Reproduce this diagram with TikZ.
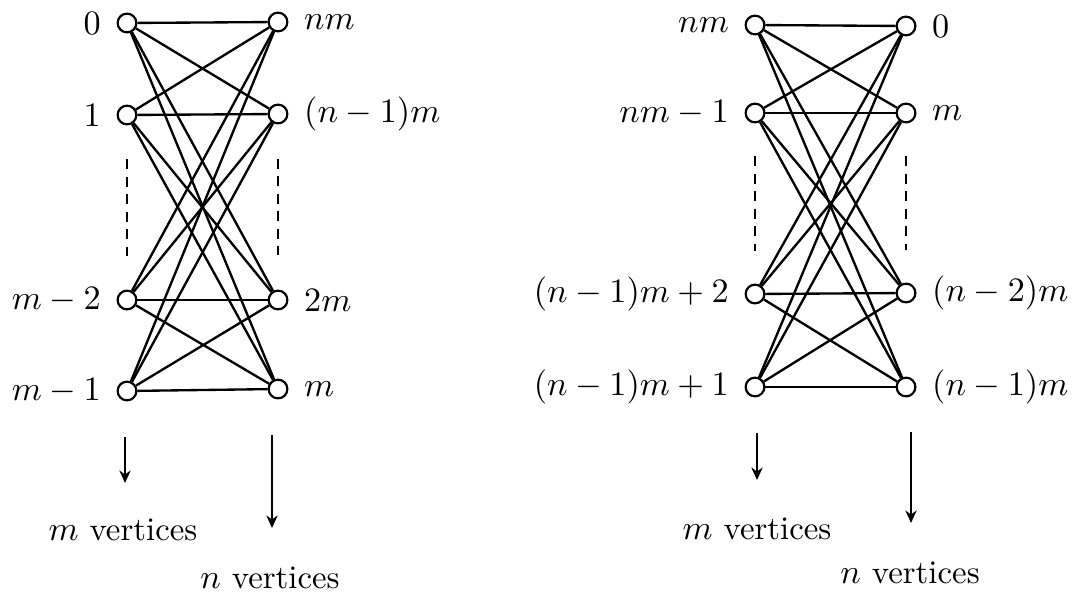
\documentclass[tikz,border=0pt]{standalone}
\usepackage{amsmath}
\usetikzlibrary{arrows.meta, calc, positioning}
\begin{document}
\begin{tikzpicture}[
    x=0.32pt, y=-0.32pt,
    >={Stealth[length=4pt,width=3.6pt]},
    font=\fontsize{10.5pt}{12pt}\selectfont,
    vert/.style={draw, circle, fill=white, inner sep=0pt, minimum size=6pt, line width=0.7pt},
    link/.style={line width=0.75pt},
    gap/.style={line width=0.65pt, dash pattern=on 3.2pt off 2.4pt},
    count/.style={->, line width=0.65pt}
]
\useasboundingbox (0,0) rectangle (1074,597);

\node[vert] (u0) at (127,23) {};
\node[vert] (u1) at (127,115) {};
\node[vert] (u2) at (127,300) {};
\node[vert] (u3) at (127,391) {};
\node[vert] (v0) at (278,22) {};
\node[vert] (v1) at (278,114) {};
\node[vert] (v2) at (278,300) {};
\node[vert] (v3) at (278,389) {};

\node[vert] (p0) at (755,25) {};
\node[vert] (p1) at (755,113) {};
\node[vert] (p2) at (755,294) {};
\node[vert] (p3) at (755,387) {};
\node[vert] (q0) at (906,26) {};
\node[vert] (q1) at (906,113) {};
\node[vert] (q2) at (906,293) {};
\node[vert] (q3) at (906,387) {};

\foreach \i in {0,...,3}
    \foreach \j in {0,...,3} {
        \draw[link] (u\i) -- (v\j);
        \draw[link] (p\i) -- (q\j);
    }

\node[left=1.5pt of u0] (lu0) {$0$};
\node[left=1.5pt of u1] (lu1) {$1$};
\node[left=1.5pt of u2] (lu2) {$m-2$};
\node[left=1.5pt of u3] (lu3) {$m-1$};
\node[right=1.5pt of v0] (lv0) {$nm$};
\node[right=1.5pt of v1] (lv1) {$(n-1)m$};
\node[right=1.5pt of v2] (lv2) {$2m$};
\node[right=1.5pt of v3] (lv3) {$m$};

\node[left=1.5pt of p0] (lp0) {$nm$};
\node[left=1.5pt of p1] (lp1) {$nm-1$};
\node[left=1.5pt of p2] (lp2) {$(n-1)m+2$};
\node[left=1.5pt of p3] (lp3) {$(n-1)m+1$};
\node[right=1.5pt of q0] (lq0) {$0$};
\node[right=1.5pt of q1] (lq1) {$m$};
\node[right=1.5pt of q2] (lq2) {$(n-2)m$};
\node[right=1.5pt of q3] (lq3) {$(n-1)m$};

\draw[gap] ($(u1)!0.24!(u2)$) -- ($(u1)!0.76!(u2)$);
\draw[gap] ($(v1)!0.24!(v2)$) -- ($(v1)!0.76!(v2)$);
\draw[gap] ($(p1)!0.24!(p2)$) -- ($(p1)!0.76!(p2)$);
\draw[gap] ($(q1)!0.24!(q2)$) -- ($(q1)!0.76!(q2)$);

\coordinate (mtopL) at (125,437);
\coordinate (mbotL) at (125,483);
\coordinate (ntopL) at (272,435);
\coordinate (nbotL) at (272,528);
\coordinate (mtopR) at (757,433);
\coordinate (mbotR) at (757,480);
\coordinate (ntopR) at (911,432);
\coordinate (nbotR) at (911,523);
\draw[count] (mtopL) -- (mbotL);
\draw[count] (ntopL) -- (nbotL);
\draw[count] (mtopR) -- (mbotR);
\draw[count] (ntopR) -- (nbotR);

\node (mL) at (123,530) {$m$ vertices};
\node (nL) at (270,578) {$n$ vertices};
\node (mR) at (757,529) {$m$ vertices};
\node (nR) at (910,573) {$n$ vertices};
\end{tikzpicture}
\end{document}
